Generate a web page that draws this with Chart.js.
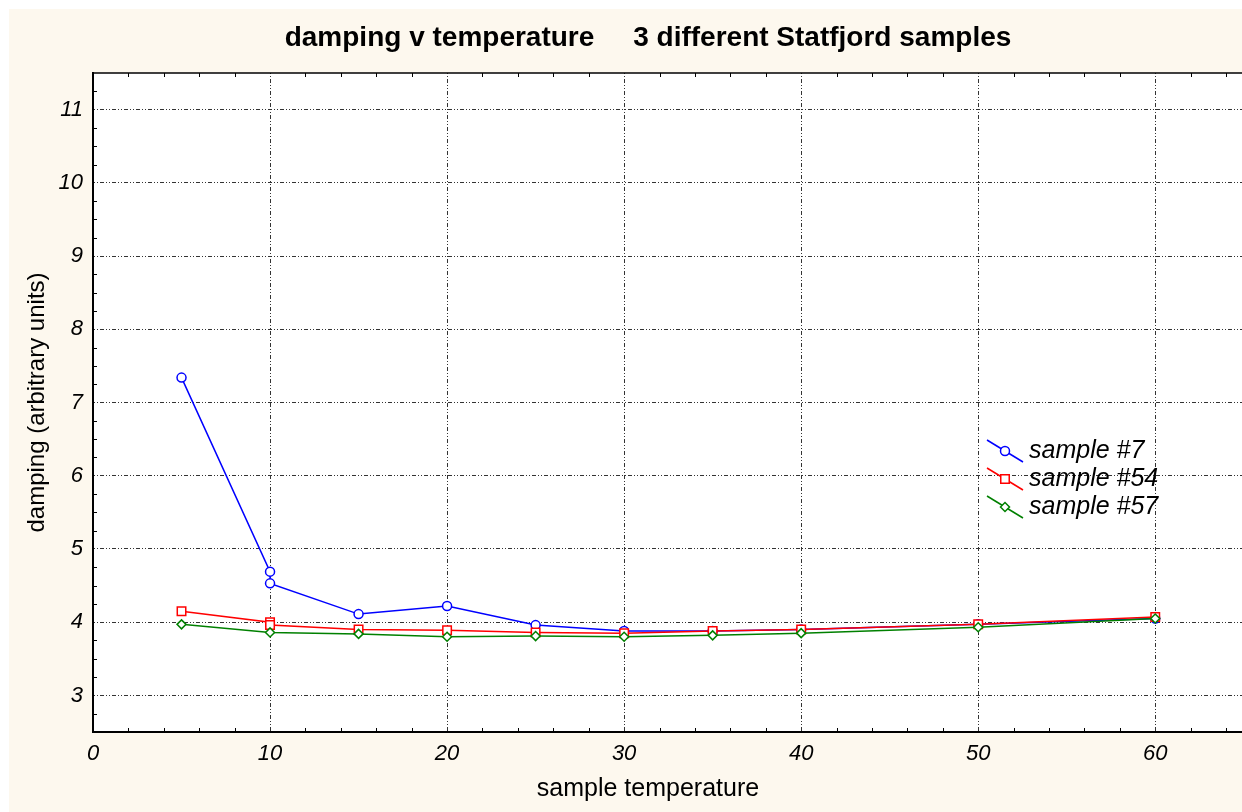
<!DOCTYPE html>
<html>
<head>
<meta charset="utf-8">
<script src="https://cdn.jsdelivr.net/npm/chart.js@4/dist/chart.umd.min.js"></script>
<style>
  html, body { margin: 0; padding: 0; background: #fff; }
  canvas { display: block; }
</style>
</head>
<body>
<canvas id="chart" width="1242" height="812"></canvas>
<script>
// values
const temps7 = [5, 10, 10, 15, 20, 25, 30, 35, 40, 50, 60];
const damping7 = [7.34, 4.69, 4.53, 4.11, 4.22, 3.96, 3.88, 3.88, 3.90, 3.97, 4.05];
const temps54 = [5, 10, 10, 15, 20, 25, 30, 35, 40, 50, 60];
const damping54 = [4.15, 4.00, 3.96, 3.90, 3.89, 3.86, 3.85, 3.88, 3.90, 3.97, 4.07];
const temps57 = [5, 10, 15, 20, 25, 30, 35, 40, 50, 60];
const damping57 = [3.97, 3.86, 3.84, 3.80, 3.81, 3.80, 3.82, 3.85, 3.93, 4.05];

const seriesLabels = ["sample #7", "sample #54", "sample #57"];
const xTicks = [0, 10, 20, 30, 40, 50, 60];
const yTicks = [3, 4, 5, 6, 7, 8, 9, 10, 11];

const titleText = "damping v temperature     3 different Statfjord samples";
const xTitle = "sample temperature";
const FONT = "'Liberation Sans', Arial, sans-serif";
const GRID_DASH = [1, 2, 1, 2, 4, 2];

const pts = (xs, ys) => xs.map((x, i) => ({ x, y: ys[i] }));

// cream page, titles, top border, minor ticks and the in-plot legend
const decor = {
    id: "decor",
    beforeDraw(chart) {
        const ctx = chart.ctx;
        ctx.save();
        ctx.fillStyle = "#fff";
        ctx.fillRect(0, 0, chart.width, chart.height);
        ctx.fillStyle = "#fdf8ee";
        ctx.fillRect(9, 9, chart.width - 9, chart.height - 9);
        const a = chart.chartArea;
        ctx.fillStyle = "#fff";
        ctx.fillRect(a.left, a.top, a.right - a.left, a.bottom - a.top);
        ctx.fillStyle = "#000";
        ctx.textAlign = "center";
        ctx.textBaseline = "middle";
        ctx.font = "bold 28px " + FONT;
        ctx.fillText(titleText, 648, 38);
        ctx.font = "25px " + FONT;
        ctx.fillText(xTitle, 648, 789);
        ctx.restore();
    },
    afterDraw(chart) {
        const ctx = chart.ctx;
        const a = chart.chartArea;
        const xs = chart.scales.x, ys = chart.scales.y;
        ctx.save();
        ctx.strokeStyle = "#000";
        ctx.lineWidth = 1.5;
        ctx.beginPath();
        ctx.moveTo(a.left, a.top);
        ctx.lineTo(a.right, a.top);
        ctx.stroke();
        ctx.lineWidth = 1;
        ctx.beginPath();
        for (let v = 2; v < xs.max; v += 2) {
            if (v % 10 === 0) continue;
            const px = Math.round(xs.getPixelForValue(v)) + 0.5;
            ctx.moveTo(px, a.bottom); ctx.lineTo(px, a.bottom - 4);
            ctx.moveTo(px, a.top); ctx.lineTo(px, a.top + 4);
        }
        for (let v = 2.75; v < ys.max; v += 0.25) {
            if (Math.abs(v - Math.round(v)) < 1e-6) continue;
            const py = Math.round(ys.getPixelForValue(v)) + 0.5;
            ctx.moveTo(a.left, py); ctx.lineTo(a.left + 4, py);
        }
        ctx.stroke();

        // legend
        chart.data.datasets.forEach((ds, i) => {
            const cy = 451 + i * 28;
            ctx.strokeStyle = ds.borderColor;
            ctx.lineWidth = 1.5;
            ctx.beginPath();
            ctx.moveTo(987, cy - 11);
            ctx.lineTo(1023, cy + 11);
            ctx.stroke();
            ctx.fillStyle = "#fff";
            Chart.helpers.drawPoint(ctx, {
                pointStyle: ds.pointStyle, radius: ds.pointRadius, rotation: 0, borderWidth: 1.5
            }, 1005, cy);
            ctx.fillStyle = "#000";
            ctx.font = "italic 25px " + FONT;
            ctx.textAlign = "left";
            ctx.textBaseline = "middle";
            ctx.fillText(seriesLabels[i], 1029, cy);
        });
        ctx.restore();
    }
};

const keepTicks = (list) => (scale) => {
    scale.ticks = list.map(v => ({ value: v }));
};

const makeSet = (label, data, color, style, radius, order) => ({
    label,
    data,
    borderColor: color,
    backgroundColor: "#fff",
    pointBackgroundColor: "#fff",
    pointBorderColor: color,
    pointStyle: style,
    pointRadius: radius,
    pointBorderWidth: 1.5,
    borderWidth: 1.5,
    tension: 0,
    order,
});

new Chart(document.getElementById("chart"), {
    type: "line",
    data: {
        datasets: [
            makeSet(seriesLabels[0], pts(temps7, damping7), "#0000ff", "circle", 4.5, 2),
            makeSet(seriesLabels[1], pts(temps54, damping54), "#ff0000", "rect", 6, 1),
            makeSet(seriesLabels[2], pts(temps57, damping57), "#008000", "rectRot", 4.5, 0),
        ],
    },
    options: {
        responsive: false,
        animation: false,
        devicePixelRatio: 1,
        layout: { autoPadding: false, padding: { top: 73, left: 0, right: 0, bottom: 0 } },
        plugins: { legend: { display: false }, title: { display: false }, tooltip: { enabled: false } },
        scales: {
            x: {
                type: "linear",
                min: 0,
                max: 64.9,
                afterFit: (s) => { s.height = 80; s.paddingRight = 0; s.paddingLeft = 0; },
                afterBuildTicks: keepTicks(xTicks),
                grid: { color: "#333", lineWidth: 1, drawTicks: false },
                border: { display: true, color: "#000", width: 2, dash: GRID_DASH },
                ticks: { padding: 9, color: "#000", font: { family: FONT, size: 22, style: "italic" } },
                title: { display: false },
            },
            y: {
                type: "linear",
                min: 2.5,
                max: 11.5,
                afterFit: (s) => { s.width = 93; s.paddingTop = 0; s.paddingBottom = 0; },
                afterBuildTicks: keepTicks(yTicks),
                grid: { color: "#333", lineWidth: 1, drawTicks: false },
                border: { display: true, color: "#000", width: 2, dash: GRID_DASH },
                ticks: { padding: 10, color: "#000", font: { family: FONT, size: 22, style: "italic" } },
                title: {
                    display: true, text: "damping (arbitrary units)", color: "#000",
                    font: { family: FONT, size: 24 }, padding: { top: 23, bottom: 0 },
                },
            },
        },
    },
    plugins: [decor],
});
</script>
</body>
</html>
